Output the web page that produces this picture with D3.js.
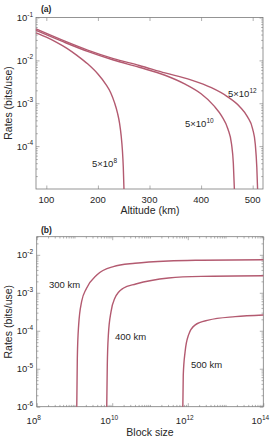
<!DOCTYPE html>
<html>
<head>
<meta charset="utf-8">
<script src="https://cdn.jsdelivr.net/npm/d3@7/dist/d3.min.js"></script>
<style>
body{margin:0;background:#fff}
text{font-family:"Liberation Sans",Arial,sans-serif;fill:#262626}
</style>
</head>
<body>
<script>
// panel (a): rate vs altitude, one curve per block size
let altTicks = [100, 200, 300, 400, 500]
let rateTicksA = [-1, -2, -3, -4]

let alt5e8  = [80, 100, 120, 140, 160, 180, 200, 215, 225, 232, 238, 242, 245, 247.5, 249.2, 250.5]
let rate5e8 = [4.37e-2, 3.47e-2, 2.63e-2, 1.91e-2, 1.29e-2, 8.3e-3, 4.8e-3, 2.8e-3, 1.74e-3, 1.05e-3, 5.9e-4, 3.4e-4, 1.78e-4, 7.9e-5, 3.2e-5, 1.0e-5]

let alt5e10  = [80, 130, 180, 230, 280, 330, 370, 400, 425, 440, 452, 459, 462.5, 464.5]
let rate5e10 = [5.0e-2, 2.8e-2, 1.62e-2, 1.02e-2, 6.9e-3, 4.5e-3, 2.75e-3, 1.66e-3, 8.7e-4, 5.0e-4, 2.5e-4, 1.12e-4, 4.0e-5, 1.0e-5]

let alt5e12  = [80, 130, 180, 230, 280, 330, 380, 420, 450, 475, 490, 500, 505, 508, 509.5]
let rate5e12 = [5.4e-2, 3.0e-2, 1.74e-2, 1.10e-2, 7.6e-3, 5.1e-3, 3.5e-3, 2.3e-3, 1.45e-3, 8.3e-4, 4.8e-4, 2.5e-4, 1.12e-4, 3.2e-5, 1.0e-5]

// panel (b): rate vs block size, one curve per altitude
let blockTicks = [8, 10, 12, 14]
let rateTicksB = [-2, -3, -4, -5, -6]

let block300 = [1.15e9, 1.19e9, 1.29e9, 1.55e9, 2.09e9, 3.9e9, 1.07e10, 4.0e10, 3.1e11, 2.3e12, 1e14]
let rate300  = [1e-6, 1.9e-5, 1.41e-4, 5.9e-4, 1.32e-3, 2.95e-3, 4.9e-3, 6.0e-3, 6.9e-3, 7.2e-3, 7.4e-3]

let block400 = [7.15e9, 7.4e9, 7.9e9, 9.3e9, 1.17e10, 1.95e10, 4.2e10, 3.1e11, 2.3e12, 1e14]
let rate400  = [1e-6, 1.26e-5, 7.8e-5, 3.2e-4, 7.2e-4, 1.32e-3, 1.7e-3, 2.45e-3, 2.7e-3, 2.8e-3]

let block500 = [7.4e11, 7.6e11, 8.5e11, 1.05e12, 1.55e12, 3.5e12, 1.8e13, 1e14]
let rate500  = [1e-6, 6.8e-6, 2.8e-5, 7.8e-5, 1.41e-4, 1.9e-4, 2.35e-4, 2.6e-4]

let w = 275, h = 438
let lineCol = '#b35a70', frameCol = '#7a7a7a'

let svg = d3.select('body').append('svg')
  .attr('width', w)
  .attr('height', h)

let minorLog = (lo, hi) => {
  let out = []
  for (let d = lo; d < hi; d++)
    for (let k = 2; k <= 9; k++) out.push(k * Math.pow(10, d))
  return out
}

// inward ticks on all four sides, labels added separately
let drawFrame = (x, y, xMaj, xMin, yMaj, yMin) => {
  let [x0, x1] = x.range(), [y0, y1] = y.range()
  let add = (axis, tr) => svg.append('g')
    .attr('transform', tr)
    .call(axis)
    .call(s => {
      s.select('.domain').remove()
      s.selectAll('text').remove()
      s.selectAll('line').attr('stroke', frameCol).attr('stroke-width', 0.6)
    })
  add(d3.axisBottom(x).tickValues(xMaj).tickSize(-3.5), `translate(0,${y0})`)
  add(d3.axisTop(x).tickValues(xMaj).tickSize(-3.5), `translate(0,${y1})`)
  add(d3.axisLeft(y).tickValues(yMaj).tickSize(-3.5), `translate(${x0},0)`)
  add(d3.axisRight(y).tickValues(yMaj).tickSize(-3.5), `translate(${x1},0)`)
  if (xMin.length) {
    add(d3.axisBottom(x).tickValues(xMin).tickSize(-1.8), `translate(0,${y0})`)
    add(d3.axisTop(x).tickValues(xMin).tickSize(-1.8), `translate(0,${y1})`)
  }
  add(d3.axisLeft(y).tickValues(yMin).tickSize(-1.8), `translate(${x0},0)`)
  add(d3.axisRight(y).tickValues(yMin).tickSize(-1.8), `translate(${x1},0)`)
  svg.append('rect')
    .attr('x', x0).attr('y', y1)
    .attr('width', x1 - x0).attr('height', y0 - y1)
    .attr('fill', 'none')
    .attr('stroke', frameCol)
    .attr('stroke-width', 0.8)
}

let powLabel = (base, exp, x, y, anchor) => {
  let t = svg.append('text')
    .attr('x', x).attr('y', y)
    .attr('text-anchor', anchor)
    .style('font-size', '9.5px')
  t.append('tspan').text(base)
  t.append('tspan').attr('dy', -4.5).style('font-size', '6.5px').text(exp)
  return t
}

let yTitle = (txt, cy) => svg.append('text')
  .attr('transform', `translate(12,${cy}) rotate(-90)`)
  .attr('text-anchor', 'middle')
  .style('font-size', '10.5px')
  .text(txt)

let drawCurve = (xs, ys, x, y) => svg.append('path')
  .datum(xs.map((v, i) => [v, ys[i]]))
  .attr('fill', 'none')
  .attr('stroke', lineCol)
  .attr('stroke-width', 1.4)
  .attr('d', d3.line().x(d => x(d[0])).y(d => y(d[1])).curve(d3.curveMonotoneX))

// ---------- panel (a)
let xA = d3.scaleLinear().domain([80, 520]).range([36, 263])
let yA = d3.scaleLog().domain([1e-5, 1e-1]).range([189, 17.5])

drawFrame(xA, yA, altTicks, [], rateTicksA.map(e => Math.pow(10, e)), minorLog(-5, -1))

altTicks.forEach(v => svg.append('text')
  .attr('x', xA(v)).attr('y', 203)
  .attr('text-anchor', 'middle')
  .style('font-size', '9.5px')
  .text(v))
rateTicksA.forEach(e => powLabel('10', e, 33, yA(Math.pow(10, e)) + 3.5, 'end'))

svg.append('text').attr('x', 150).attr('y', 214)
  .attr('text-anchor', 'middle').style('font-size', '10.5px')
  .text('Altitude (km)')
yTitle('Rates (bits/use)', 103)
svg.append('text').attr('x', 41).attr('y', 12)
  .style('font-size', '8.5px').style('font-weight', 'bold')
  .text('(a)')

drawCurve(alt5e8, rate5e8, xA, yA)
drawCurve(alt5e10, rate5e10, xA, yA)
drawCurve(alt5e12, rate5e12, xA, yA)

powLabel('5\u00d710', '8', 92, 167, 'start')
powLabel('5\u00d710', '10', 185, 127, 'start')
powLabel('5\u00d710', '12', 228, 97, 'start')

// ---------- panel (b)
let xB = d3.scaleLog().domain([1e8, 1e14]).range([36.7, 263.3])
let yB = d3.scaleLog().domain([1e-6, 3e-2]).range([406.7, 236.7])

drawFrame(xB, yB, blockTicks.map(e => Math.pow(10, e)), minorLog(8, 14).concat([1e9, 1e11, 1e13]),
  rateTicksB.map(e => Math.pow(10, e)), minorLog(-6, -2).concat([2e-2, 3e-2]))

blockTicks.forEach(e => powLabel('10', e, xB(Math.pow(10, e)) - 3, 424, 'middle'))
rateTicksB.forEach(e => powLabel('10', e, 33, yB(Math.pow(10, e)) + 3.5, 'end'))

svg.append('text').attr('x', 150).attr('y', 436)
  .attr('text-anchor', 'middle').style('font-size', '10.5px')
  .text('Block size')
yTitle('Rates (bits/use)', 321.7)
svg.append('text').attr('x', 41).attr('y', 233)
  .style('font-size', '8.5px').style('font-weight', 'bold')
  .text('(b)')

drawCurve(block300, rate300, xB, yB)
drawCurve(block400, rate400, xB, yB)
drawCurve(block500, rate500, xB, yB)

let kmLabel = (t, x, y) => svg.append('text')
  .attr('x', x).attr('y', y)
  .style('font-size', '9.5px')
  .text(t)
kmLabel('300 km', 49, 288)
kmLabel('400 km', 115, 340)
kmLabel('500 km', 191, 368)
</script>
</body>
</html>
